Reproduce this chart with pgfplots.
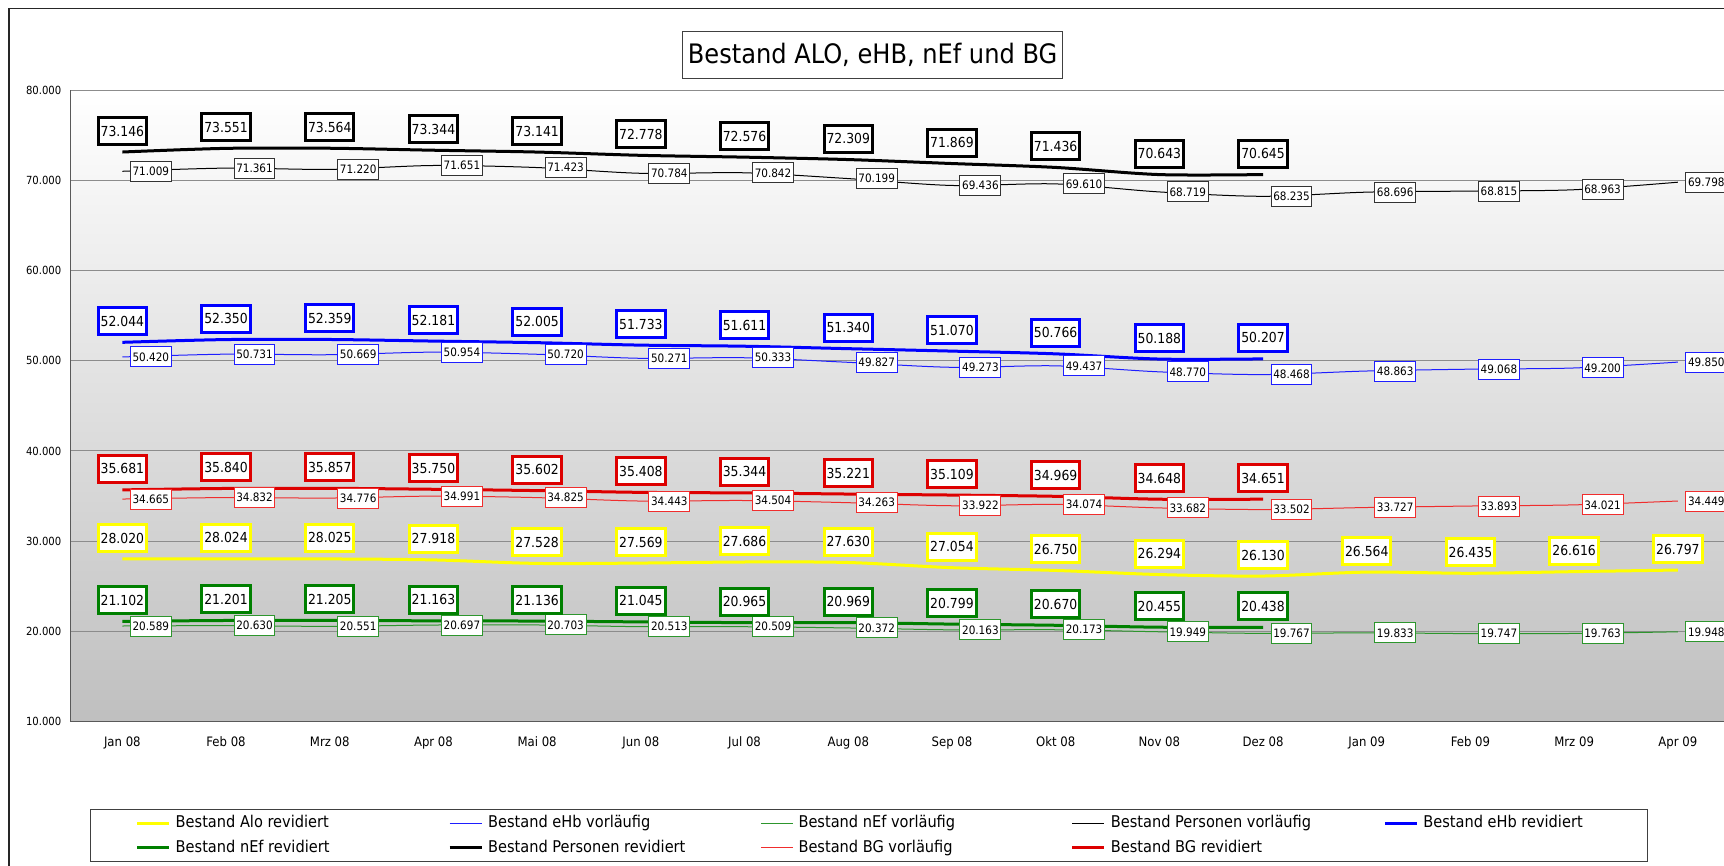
\documentclass[border=0pt]{standalone}
\usepackage{pgfplots}
\pgfplotsset{compat=1.18}
\usepackage{pgfplotstable}
\usepackage{fontspec}
\setmainfont{DejaVu Sans Condensed}
\definecolor{cYel}{RGB}{255,255,0}
\definecolor{cBlu}{RGB}{0,0,255}
\definecolor{cBluT}{RGB}{30,30,255}
\definecolor{cGrn}{RGB}{0,128,0}
\definecolor{cGrnT}{RGB}{45,150,45}
\definecolor{cRed}{RGB}{221,0,0}
\definecolor{cRedT}{RGB}{240,45,45}

\pgfplotstableread{
x alo ehbv nefv persv bgv
0 28.020 50.420 20.589 71.009 34.665
1 28.024 50.731 20.630 71.361 34.832
2 28.025 50.669 20.551 71.220 34.776
3 27.918 50.954 20.697 71.651 34.991
4 27.528 50.720 20.703 71.423 34.825
5 27.569 50.271 20.513 70.784 34.443
6 27.686 50.333 20.509 70.842 34.504
7 27.630 49.827 20.372 70.199 34.263
8 27.054 49.273 20.163 69.436 33.922
9 26.750 49.437 20.173 69.610 34.074
10 26.294 48.770 19.949 68.719 33.682
11 26.130 48.468 19.767 68.235 33.502
12 26.564 48.863 19.833 68.696 33.727
13 26.435 49.068 19.747 68.815 33.893
14 26.616 49.200 19.763 68.963 34.021
15 26.797 49.850 19.948 69.798 34.449
}\vtab

\pgfplotstableread{
x ehbr nefr persr bgr
0 52.044 21.102 73.146 35.681
1 52.350 21.201 73.551 35.840
2 52.359 21.205 73.564 35.857
3 52.181 21.163 73.344 35.750
4 52.005 21.136 73.141 35.602
5 51.733 21.045 72.778 35.408
6 51.611 20.965 72.576 35.344
7 51.340 20.969 72.309 35.221
8 51.070 20.799 71.869 35.109
9 50.766 20.670 71.436 34.969
10 50.188 20.455 70.643 34.648
11 50.207 20.438 70.645 34.651
}\rtab

\pgfkeys{/pgf/number format/assume math mode=true}

\tikzset{
 thinlab/.style={draw=#1, line width=0.5pt, fill=white, text=black, inner xsep=1.1pt, inner ysep=0pt, minimum height=10pt, outer sep=0pt, anchor=west, xshift=4pt, font=\fontsize{5.8}{6}\selectfont},
 thicklab/.style={draw=#1, line width=1.5pt, fill=white, text=black, inner xsep=1.25pt, inner ysep=0pt, minimum height=13.5pt, outer sep=0pt, anchor=south, yshift=3.75pt, font=\fontsize{6.9}{7}\selectfont},
}
\pgfplotsset{
 lab/.style={draw=none, forget plot, nodes near coords={\pgfmathprintnumber[fixed,fixed zerofill,precision=3]{\pgfplotspointmeta}}, every node near coord/.append style={#1}},
}

\begin{document}
\begin{tikzpicture}
\useasboundingbox (0,0) rectangle (862pt,-433pt);
\clip (0,0) rectangle (862pt,-433pt);
\fill[white] (0,0) rectangle (862pt,-433pt);
\draw[black!85, line width=0.75pt] (4.6pt,-4.2pt) rectangle (890pt,-460pt);
\begin{axis}[
 at={(35.25pt,-360.75pt)}, anchor=south west,
 scale only axis, width=827pt, height=315.65pt,
 xmin=-0.5, xmax=15.45, ymin=10, ymax=80,
 clip=false,
 axis x line*=bottom, axis y line*=left,
 axis line style={-, draw=black!65, line width=0.5pt},
 axis background/.style={shade, top color=white, bottom color=black!25},
 ytick={10,20,...,80},
 ymajorgrids, grid style={draw=black!45, line width=0.5pt},
 major tick length=0pt,
 yticklabel style={anchor=east, inner sep=0pt, xshift=-4.4pt, font=\fontsize{5.6}{6}\selectfont, /pgf/number format/.cd, fixed, fixed zerofill, precision=3},
 xtick={0,...,15},
 xticklabels={Jan 08,Feb 08,Mrz 08,Apr 08,Mai 08,Jun 08,Jul 08,Aug 08,Sep 08,Okt 08,Nov 08,Dez 08,Jan 09,Feb 09,Mrz 09,Apr 09},
 xticklabel style={anchor=base, inner sep=0pt, yshift=-12.6pt, font=\fontsize{6.5}{7}\selectfont},
 title={Bestand ALO, eHB, nEf und BG},
 title style={at={(axis description cs:0.48494,1.0365)}, anchor=center, draw=black!75, line width=0.5pt, minimum width=190.2pt, minimum height=23.3pt, inner sep=0pt, font=\fontsize{13.4}{15}\selectfont},
 legend columns=5,
 legend cell align=left,
 legend image code/.code={\draw[#1] (0pt,0pt) -- (16pt,0pt);},
 legend style={at={(axis description cs:0.01179,-0.1391)}, anchor=north west, draw=black!75, line width=0.5pt, fill=white, outer sep=0pt, inner xsep=22.85pt, inner ysep=0.7pt, font=\fontsize{8.1}{9}\selectfont, row sep=0pt, nodes={inner sep=0pt, minimum height=12.4pt}, /tikz/every odd column/.append style={column sep=2.5pt}, /tikz/every even column/.append style={column sep=0pt}},
]
% lines
\addplot[smooth, cYel, line width=1.5pt] table[x=x,y=alo]{\vtab};
\addlegendentry{\makebox[136.2pt][l]{Bestand Alo revidiert}}
\addplot[smooth, cBluT, line width=0.5pt] table[x=x,y=ehbv]{\vtab};
\addlegendentry{\makebox[136.2pt][l]{Bestand eHb vorläufig}}
\addplot[smooth, cGrnT, line width=0.5pt] table[x=x,y=nefv]{\vtab};
\addlegendentry{\makebox[136.2pt][l]{Bestand nEf vorläufig}}
\addplot[smooth, black, line width=0.5pt] table[x=x,y=persv]{\vtab};
\addlegendentry{\makebox[136.2pt][l]{Bestand Personen vorläufig}}
\addplot[smooth, cBlu, line width=1.5pt] table[x=x,y=ehbr]{\rtab};
\addlegendentry{\makebox[89pt][l]{Bestand eHb revidiert}}
\addplot[smooth, cGrn, line width=1.5pt] table[x=x,y=nefr]{\rtab};
\addlegendentry{\makebox[136.2pt][l]{Bestand nEf revidiert}}
\addplot[smooth, black, line width=1.5pt] table[x=x,y=persr]{\rtab};
\addlegendentry{\makebox[136.2pt][l]{Bestand Personen revidiert}}
\addplot[smooth, cRedT, line width=0.5pt] table[x=x,y=bgv]{\vtab};
\addlegendentry{\makebox[136.2pt][l]{Bestand BG vorläufig}}
\addplot[smooth, cRed, line width=1.5pt] table[x=x,y=bgr]{\rtab};
\addlegendentry{\makebox[136.2pt][l]{Bestand BG revidiert}}
% labels
\addplot[lab={thinlab=black!80}] table[x=x,y=persv]{\vtab};
\addplot[lab={thinlab=cBluT}] table[x=x,y=ehbv]{\vtab};
\addplot[lab={thinlab=cRedT}] table[x=x,y=bgv]{\vtab};
\addplot[lab={thinlab=cGrnT}] table[x=x,y=nefv]{\vtab};
\addplot[lab={thicklab=black}] table[x=x,y=persr]{\rtab};
\addplot[lab={thicklab=cBlu}] table[x=x,y=ehbr]{\rtab};
\addplot[lab={thicklab=cRed}] table[x=x,y=bgr]{\rtab};
\addplot[lab={thicklab=cYel}] table[x=x,y=alo]{\vtab};
\addplot[lab={thicklab=cGrn}] table[x=x,y=nefr]{\rtab};
\end{axis}
\end{tikzpicture}
\end{document}
